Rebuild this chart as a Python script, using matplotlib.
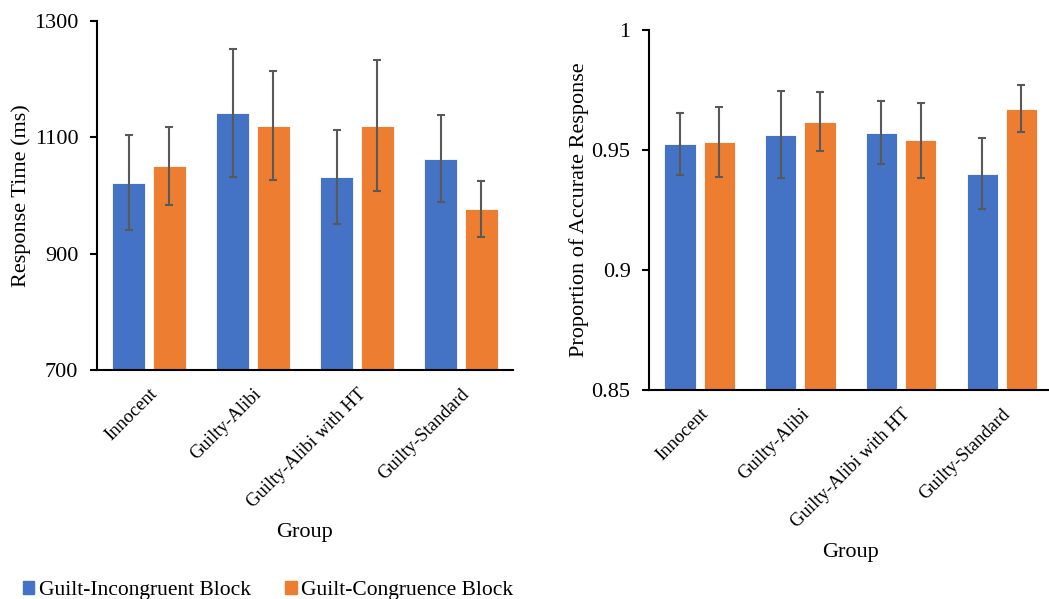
import numpy as np
import matplotlib.pyplot as plt
from matplotlib.patches import Patch

plt.rcParams["font.family"] = ["Liberation Serif", "DejaVu Serif"]

groups = ["Innocent", "Guilty-Alibi", "Guilty-Alibi with HT", "Guilty-Standard"]
series_names = ["Guilt-Incongruent Block", "Guilt-Congruence Block"]

# response time (ms)
rt_incongruent = [1022, 1142, 1031, 1063]
rt_incongruent_err = [81, 110, 81, 75]
rt_congruent = [1050, 1120, 1120, 977]
rt_congruent_err = [67, 94, 112, 48]

# proportion of accurate responses
acc_incongruent = [0.9525, 0.9564, 0.9572, 0.9401]
acc_incongruent_err = [0.0130, 0.0182, 0.0131, 0.0147]
acc_congruent = [0.9533, 0.9618, 0.9540, 0.9672]
acc_congruent_err = [0.0146, 0.0123, 0.0155, 0.0097]

blue = "#4472C4"
orange = "#ED7D31"
err_color = "#595959"

fig = plt.figure(figsize=(10.49, 5.99), dpi=100)
ax1 = fig.add_axes([0.0925, 0.3823, 0.3965, 0.5831])
ax2 = fig.add_axes([0.619, 0.3489, 0.384, 0.6011])


def draw_panel(ax, vals_a, err_a, vals_b, err_b, width, offset):
    x = np.arange(len(groups))
    for vals, errs, color, sign in [(vals_a, err_a, blue, -1), (vals_b, err_b, orange, 1)]:
        ax.bar(x + sign * offset, vals, width, color=color,
               edgecolor="white", linewidth=0.6, zorder=2)
        ax.errorbar(x + sign * offset, vals, yerr=errs, fmt="none",
                    ecolor=err_color, elinewidth=1.5, capsize=2.6,
                    capthick=1.5, zorder=3)
    ax.set_xlim(-0.5, len(groups) - 0.5)
    ax.set_xticks(x)
    ax.set_xticklabels(groups, rotation=45, ha="right", va="top",
                       rotation_mode="anchor", fontsize=13.5)
    ax.tick_params(axis="x", length=0, pad=11)
    ax.tick_params(axis="y", length=5, width=1.5, labelsize=16,
                   direction="out", pad=8.5)
    for side in ["top", "right"]:
        ax.spines[side].set_visible(False)
    for side in ["left", "bottom"]:
        ax.spines[side].set_linewidth(1.5)
    ax.set_xlabel("Group", fontsize=16, labelpad=9)


draw_panel(ax1, rt_incongruent, rt_incongruent_err, rt_congruent, rt_congruent_err, 0.317, 0.193)
ax1.set_ylim(700, 1300)
ax1.set_yticks([700, 900, 1100, 1300])
ax1.set_ylabel("Response Time (ms)", fontsize=16, labelpad=2)

draw_panel(ax2, acc_incongruent, acc_incongruent_err, acc_congruent, acc_congruent_err, 0.31, 0.195)
ax2.set_ylim(0.85, 1.0)
ax2.set_yticks([0.85, 0.9, 0.95, 1.0])
ax2.set_yticklabels(["0.85", "0.9", "0.95", "1"])
ax2.set_ylabel("Proportion of Accurate Response", fontsize=16, labelpad=2)

handles = [Patch(color=blue), Patch(color=orange)]
fig.legend(handles, series_names, loc="lower left", bbox_to_anchor=(0.0216, -0.002),
           ncol=2, frameon=False, fontsize=15.5, handlelength=0.55,
           handleheight=0.55, handletextpad=0.2, columnspacing=1.6,
           borderaxespad=0, borderpad=0)

fig.savefig("out.png", dpi=100)
